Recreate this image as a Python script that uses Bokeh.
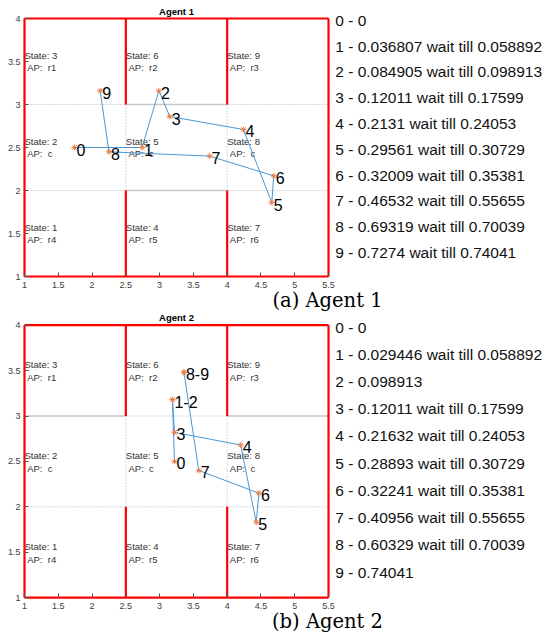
from bokeh.plotting import figure
from bokeh.models import Range1d, LinearAxis, FixedTicker
from bokeh.layouts import column
from bokeh.embed import file_html
from bokeh.resources import INLINE
from bokeh.core.properties import value

# ---------------- data ----------------
x_ticks = [1, 1.5, 2, 2.5, 3, 3.5, 4, 4.5, 5, 5.5]
x_tick_labels = ["1", "1.5", "2", "2.5", "3", "3.5", "4", "4.5", "5", "5.5"]
y_ticks = [1, 1.5, 2, 2.5, 3, 3.5, 4]
y_tick_labels = ["1", "1.5", "2", "2.5", "3", "3.5", "4"]

state_ids = [3, 6, 9, 2, 5, 8, 1, 4, 7]
state_x = [1, 2.5, 4, 1, 2.5, 4, 1, 2.5, 4]
state_row = [3.5, 3.5, 3.5, 2.5, 2.5, 2.5, 1.5, 1.5, 1.5]
state_ap = ["r1", "r2", "r3", "c", "c", "c", "r4", "r5", "r6"]

# red boundaries: segments (x0, y0, x1, y1)
red_x0 = [1, 5.5, 5.5, 1, 2.5, 2.5, 4, 4]
red_y0 = [1, 1, 4, 4, 1, 3, 1, 3]
red_x1 = [5.5, 5.5, 1, 1, 2.5, 2.5, 4, 4]
red_y1 = [1, 4, 4, 1, 2, 4, 2, 4]

grid_v = [2.5, 4]
grid_h = [2, 3]

agent1_x = [1.74, 2.74, 2.99, 3.15, 4.24, 4.66, 4.69, 3.74, 2.25, 2.12]
agent1_y = [2.50, 2.50, 3.16, 2.86, 2.71, 1.86, 2.17, 2.40, 2.45, 3.16]
agent1_wall_x0 = [2.5, 2.5]
agent1_wall_x1 = [4, 4]
agent1_wall_y = [3, 2]
agent1_legend = [
    "0 - 0",
    "1 - 0.036807 wait till 0.058892",
    "2 - 0.084905 wait till 0.098913",
    "3 - 0.12011 wait till 0.17599",
    "4 - 0.2131 wait till 0.24053",
    "5 - 0.29561 wait till 0.30729",
    "6 - 0.32009 wait till 0.35381",
    "7 - 0.46532 wait till 0.55655",
    "8 - 0.69319 wait till 0.70039",
    "9 - 0.7274 wait till 0.74041",
]

agent2_x = [3.22, 3.19, 3.19, 3.22, 4.20, 4.43, 4.47, 3.58, 3.36, 3.36]
agent2_y = [2.50, 3.18, 3.18, 2.82, 2.68, 1.83, 2.15, 2.40, 3.48, 3.48]
agent2_wall_x0 = [1, 4]
agent2_wall_x1 = [2.5, 5.5]
agent2_wall_y = [3, 3]
agent2_legend = [
    "0 - 0",
    "1 - 0.029446 wait till 0.058892",
    "2 - 0.098913",
    "3 - 0.12011 wait till 0.17599",
    "4 - 0.21632 wait till 0.24053",
    "5 - 0.28893 wait till 0.30729",
    "6 - 0.32241 wait till 0.35381",
    "7 - 0.40956 wait till 0.55655",
    "8 - 0.60329 wait till 0.70039",
    "9 - 0.74041",
]

SANS = "Liberation Sans"
NB = "\u00a0"
PX_X = 67.56           # pixels per x unit
FIG_W = 546
LEFT_PX = 24           # screen x of data x = 1


def waypoint_labels(xs, ys):
    lx, ly, lt = [], [], []
    i = 0
    n = len(xs)
    while i < n:
        j = i
        while j + 1 < n and xs[j + 1] == xs[i] and ys[j + 1] == ys[i]:
            j += 1
        lx.append(xs[i]); ly.append(ys[i])
        lt.append(str(i) if j == i else f"{i}-{j}")
        i = j + 1
    return lx, ly, lt


def make_chart(title, caption, xs, ys, legend, wx0, wx1, wy,
               px_y, top_gap, height, caption_px):
    x0 = 1 - LEFT_PX / PX_X
    x1 = x0 + FIG_W / PX_X
    y1 = 4 + top_gap / px_y
    y0 = y1 - height / px_y
    p = figure(width=FIG_W, height=height, output_backend="svg",
               toolbar_location=None, x_range=Range1d(x0, x1),
               y_range=Range1d(y0, y1), x_axis_location=None,
               y_axis_location=None, min_border=0)
    p.outline_line_color = None
    p.xgrid.visible = False
    p.ygrid.visible = False

    # dotted grid
    p.segment(x0=grid_v, y0=[1] * len(grid_v), x1=grid_v, y1=[4] * len(grid_v),
              line_color="#b5b5b5", line_width=1, line_dash="1 2")
    p.segment(x0=[1] * len(grid_h), y0=grid_h, x1=[5.5] * len(grid_h), y1=grid_h,
              line_color="#b5b5b5", line_width=1, line_dash="1 2")
    # gray walls
    p.segment(x0=wx0, y0=wy, x1=wx1, y1=wy, line_color="#c8c8c8", line_width=1.5)
    # red walls
    p.segment(x0=red_x0, y0=red_y0, x1=red_x1, y1=red_y1,
              line_color="#ff0000", line_width=2.2)

    # state labels
    p.text(x=state_x, y=[r + 0.068 for r in state_row],
           text=[f"State: {s}" for s in state_ids],
           text_font=value(SANS), text_font_size="9.5px", text_color="#333333",
           text_baseline="middle", text_align="left")
    p.text(x=state_x, y=[r - 0.075 for r in state_row],
           text=[f"{NB}AP:{NB}{NB}{a}" for a in state_ap],
           text_font=value(SANS), text_font_size="9.5px", text_color="#333333",
           text_baseline="middle", text_align="left")

    # path
    p.line(xs, ys, line_color="#4a97d4", line_width=1)
    p.scatter(xs, ys, marker="asterisk", size=6, line_color="#ea7d4c",
              line_width=1)
    lx, ly, lt = waypoint_labels(xs, ys)
    p.text(x=lx, y=ly, text=lt, text_font=value(SANS), text_font_size="16px",
           text_color="#000000", text_baseline="middle", text_align="left",
           x_offset=2, y_offset=2)

    # title
    p.text(x=[3.25], y=[4 + 0.085], text=[title], text_font=value(SANS),
           text_font_size="9.5px", text_font_style="bold", text_color="#000000",
           text_align="center", text_baseline="middle")

    # legend text
    p.text(x=[5.6] * len(legend), y=[3.98 - 0.3 * i for i in range(len(legend))],
           text=legend, text_font=value(SANS), text_font_size="15.5px",
           text_color="#111111", text_align="left", text_baseline="middle")

    # caption
    cy = 4 - (caption_px - top_gap) / px_y
    p.text(x=[1 + 303 / PX_X], y=[cy], text=[caption],
           text_font=value("DejaVu Serif"), text_font_size="19.5px",
           text_color="#000000", text_align="center", text_baseline="middle")

    # axes
    xa = LinearAxis(fixed_location=1, ticker=FixedTicker(ticks=x_ticks),
                    bounds=(1, 5.5))
    xa.major_label_overrides = {float(t): l for t, l in zip(x_ticks, x_tick_labels)}
    ya = LinearAxis(fixed_location=1, ticker=FixedTicker(ticks=y_ticks),
                    bounds=(1, 4))
    ya.major_label_overrides = {float(t): l for t, l in zip(y_ticks, y_tick_labels)}
    for ax in (xa, ya):
        ax.axis_line_color = None
        ax.major_tick_in = 4
        ax.major_tick_out = 0
        ax.major_tick_line_color = "#555555"
        ax.minor_tick_line_color = None
        ax.major_label_text_font = SANS
        ax.major_label_text_font_size = "9px"
        ax.major_label_text_color = "#404040"
        ax.major_label_standoff = 5
    ya.major_label_standoff = 4
    p.add_layout(xa, "below")
    p.add_layout(ya, "left")
    return p


# chart 1 occupies screen rows 0..313, chart 2 rows 313..635
p1 = make_chart("Agent 1", "(a) Agent 1", agent1_x, agent1_y, agent1_legend,
                agent1_wall_x0, agent1_wall_x1, agent1_wall_y,
                px_y=86.0, top_gap=18, height=313, caption_px=300)
p2 = make_chart("Agent 2", "(b) Agent 2", agent2_x, agent2_y, agent2_legend,
                agent2_wall_x0, agent2_wall_x1, agent2_wall_y,
                px_y=90.8, top_gap=11.7, height=322, caption_px=307.5)

layout = column(p1, p2, spacing=0)
open("out.html", "w").write(file_html(layout, INLINE))
